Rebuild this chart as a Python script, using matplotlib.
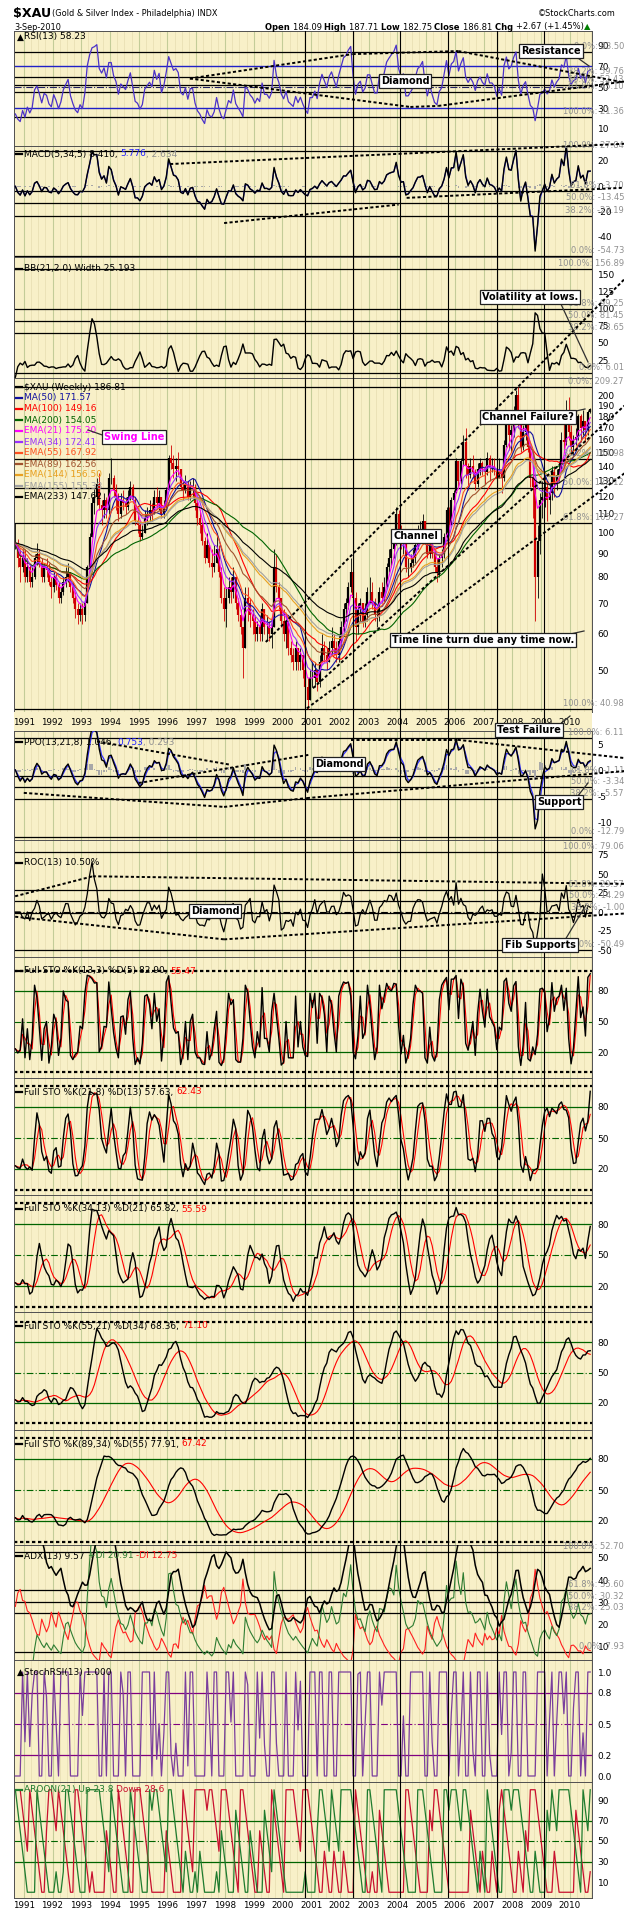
import numpy as np
import matplotlib
matplotlib.use("Agg")
import matplotlib.pyplot as plt
from matplotlib.lines import Line2D
from matplotlib import font_manager
from matplotlib.ticker import NullLocator, FixedLocator, FixedFormatter

plt.rcParams['font.family'] = ['DejaVu Sans']
_installed = {f.name for f in font_manager.fontManager.ttflist}
NARROW = 'Liberation Sans Narrow' if 'Liberation Sans Narrow' in _installed else 'DejaVu Sans'
NARROW_SCALE = 1.0 if NARROW != 'DejaVu Sans' else 0.82

W, H = 624, 1914
X0, X1 = 14, 592            # plot area, pixels
XL, XR = 1990.66, 2010.77   # time range shown (decimal years)

# ---------------------------------------------------------------------------
# Monthly high / low / close of $XAU, Sep-1990 .. Sep-2010 (last = wk of 3-Sep)
# ---------------------------------------------------------------------------
hi_1990 = [105, 97, 92, 92]
lo_1990 = [92, 84, 78, 82]
cl_1990 = [95, 88, 84, 88]
hi_1991 = [92, 88, 86, 84, 90, 95, 92, 88, 86, 88, 86, 80]
lo_1991 = [78, 78, 76, 76, 79, 85, 84, 78, 78, 80, 77, 72]
cl_1991 = [80, 84, 78, 80, 88, 90, 86, 80, 84, 83, 78, 76]
hi_1992 = [82, 82, 78, 76, 80, 84, 86, 82, 78, 74, 70, 70]
lo_1992 = [74, 75, 70, 70, 73, 76, 78, 74, 70, 65, 63, 64]
cl_1992 = [80, 77, 72, 74, 78, 80, 82, 76, 72, 68, 66, 68]
hi_1993 = [70, 72, 85, 100, 120, 125, 132, 135, 118, 122, 120, 135]
lo_1993 = [63, 64, 70, 84, 98, 110, 115, 112, 104, 108, 108, 110]
cl_1993 = [66, 70, 84, 98, 116, 120, 128, 115, 112, 118, 112, 132]
hi_1994 = [146, 134, 128, 122, 122, 124, 120, 124, 130, 128, 120, 110]
lo_1994 = [128, 120, 112, 106, 108, 112, 110, 112, 118, 116, 104, 100]
cl_1994 = [132, 124, 120, 110, 118, 116, 114, 120, 126, 118, 106, 104]
hi_1995 = [106, 104, 112, 114, 118, 116, 124, 126, 124, 120, 118, 126]
lo_1995 = [96, 97, 100, 104, 106, 106, 110, 114, 112, 108, 108, 112]
cl_1995 = [98, 100, 108, 110, 112, 110, 120, 116, 120, 110, 114, 124]
hi_1996 = [148, 156, 148, 146, 150, 138, 130, 134, 130, 130, 132, 128]
lo_1996 = [124, 138, 132, 130, 134, 124, 118, 122, 118, 118, 120, 112]
cl_1996 = [146, 142, 138, 140, 138, 126, 124, 128, 120, 126, 126, 116]
hi_1997 = [118, 112, 106, 98, 100, 94, 92, 94, 100, 94, 84, 76]
lo_1997 = [104, 100, 94, 86, 88, 84, 80, 82, 86, 80, 70, 64]
cl_1997 = [108, 104, 96, 88, 94, 86, 84, 86, 92, 82, 72, 68]
hi_1998 = [76, 80, 80, 84, 80, 72, 68, 62, 76, 76, 72, 68]
lo_1998 = [62, 70, 70, 72, 68, 64, 60, 48, 56, 64, 62, 60]
cl_1998 = [72, 76, 74, 80, 70, 66, 62, 56, 72, 70, 66, 64]
hi_1999 = [66, 64, 66, 70, 68, 66, 64, 64, 92, 90, 78, 72]
lo_1999 = [58, 58, 58, 58, 60, 58, 58, 56, 62, 74, 68, 62]
cl_1999 = [60, 62, 60, 68, 62, 62, 60, 62, 84, 76, 72, 64]
hi_2000 = [68, 66, 64, 58, 56, 58, 56, 56, 54, 50, 48, 50]
lo_2000 = [58, 56, 54, 52, 50, 50, 50, 50, 48, 44, 40.98, 43]
cl_2000 = [60, 64, 56, 54, 52, 56, 52, 54, 50, 46, 43, 48]
hi_2001 = [52, 52, 50, 54, 60, 58, 56, 58, 62, 60, 58, 60]
lo_2001 = [46, 46, 45, 46, 52, 52, 50, 52, 54, 54, 52, 52]
cl_2001 = [48, 50, 47, 52, 56, 54, 52, 56, 58, 56, 54, 58]
hi_2002 = [64, 70, 72, 78, 88, 86, 74, 70, 72, 70, 70, 76]
lo_2002 = [56, 60, 64, 68, 74, 70, 58, 60, 64, 62, 62, 64]
cl_2002 = [62, 68, 70, 76, 82, 72, 62, 68, 70, 64, 66, 74]
hi_2003 = [80, 78, 72, 68, 76, 78, 80, 86, 92, 96, 98, 114]
lo_2003 = [70, 68, 64, 62, 64, 70, 70, 76, 82, 84, 88, 94]
cl_2003 = [74, 70, 66, 66, 74, 72, 76, 84, 88, 92, 96, 110]
hi_2004 = [112, 104, 102, 98, 88, 90, 92, 96, 104, 106, 110, 106]
lo_2004 = [96, 92, 90, 82, 80, 82, 84, 86, 92, 96, 98, 96]
cl_2004 = [100, 96, 98, 84, 84, 86, 88, 94, 100, 102, 106, 98]
hi_2005 = [100, 100, 98, 92, 88, 90, 92, 100, 114, 114, 120, 124]
lo_2005 = [88, 88, 88, 82, 78, 80, 84, 88, 96, 100, 104, 112]
cl_2005 = [90, 96, 90, 84, 82, 88, 90, 98, 112, 104, 118, 122]
hi_2006 = [146, 144, 146, 164, 170, 142, 146, 148, 138, 142, 146, 144]
lo_2006 = [122, 126, 128, 140, 132, 124, 132, 132, 124, 126, 134, 134]
cl_2006 = [144, 130, 144, 158, 140, 134, 140, 136, 128, 138, 142, 138]
hi_2007 = [140, 150, 148, 146, 146, 142, 146, 138, 160, 176, 180, 172]
lo_2007 = [128, 134, 130, 136, 134, 128, 132, 122, 130, 154, 152, 150]
cl_2007 = [136, 146, 140, 140, 138, 132, 136, 132, 156, 172, 164, 168]
hi_2008 = [190, 206, 209.27, 182, 172, 176, 180, 156, 150, 130, 104, 122]
lo_2008 = [162, 180, 170, 150, 152, 160, 150, 126, 108, 64, 72, 90]
cl_2008 = [184, 200, 174, 154, 166, 172, 154, 132, 126, 80, 96, 118]
hi_2009 = [130, 136, 130, 128, 140, 140, 138, 144, 166, 176, 196, 198]
lo_2009 = [108, 114, 106, 110, 118, 120, 124, 130, 138, 150, 156, 160]
cl_2009 = [120, 126, 118, 122, 136, 128, 134, 138, 160, 158, 186, 166]
hi_2010 = [172, 164, 170, 182, 182, 186, 176, 186, 187.71]
lo_2010 = [150, 148, 156, 160, 158, 164, 158, 164, 182.75]
cl_2010 = [154, 160, 162, 180, 170, 176, 168, 184.14, 186.81]
last_open = 184.09

# vertical cycle ("time") lines
time_lines = [2000.77, 2002.47, 2004.10, 2005.77, 2007.47, 2009.10]

# hand-drawn trend lines, (year, value) pairs per panel
rsi_trend = [((1996.78, 58.3), (2002.44, 81.7)), ((2002.44, 81.7), (2006.12, 84.6)),
             ((2006.12, 84.6), (2011.9, 54.4)), ((1996.78, 58.3), (2004.45, 31.0)),
             ((2004.45, 31.0), (2005.42, 32.0)), ((2005.42, 32.0), (2011.9, 55.4))]
macd_trend = [((1996.09, 17.6), (2011.9, 33.6)), ((1997.97, -29.0), (2004.04, -14.4)),
              ((2004.32, -9.1), (2011.9, -1.1))]
ppo_trend = [((1993.55, 5.5), (1998.2, 1.0)), ((1995.0, -2.5), (2000.9, 2.9)),
             ((1991.0, -4.4), (1997.97, -7.1)), ((1997.97, -7.1), (2000.85, -5.4)),
             ((2000.85, -5.4), (2011.9, -0.2)), ((2002.4, 5.8), (2006.1, 5.8)),
             ((2006.1, 5.8), (2011.9, 2.3))]
roc_trend = [((1990.70, 20.7), (1993.4, 47.0)), ((1993.4, 47.0), (2011.9, 37.0)),
             ((1990.70, -6.2), (1997.97, -36.0)), ((1997.97, -36.0), (2011.9, -2.0))]
price_trend = [((1999.42, 57.6), (2011.9, 360.0)), ((2001.06, 45.6), (2011.9, 190.0)),
               ((2000.85, 41.2), (2011.9, 135.0))]

# ---------------------------------------------------------------------------
hi = np.array(sum([hi_1990, hi_1991, hi_1992, hi_1993, hi_1994, hi_1995, hi_1996,
                   hi_1997, hi_1998, hi_1999, hi_2000, hi_2001, hi_2002, hi_2003,
                   hi_2004, hi_2005, hi_2006, hi_2007, hi_2008, hi_2009, hi_2010], []), float)
lo = np.array(sum([lo_1990, lo_1991, lo_1992, lo_1993, lo_1994, lo_1995, lo_1996,
                   lo_1997, lo_1998, lo_1999, lo_2000, lo_2001, lo_2002, lo_2003,
                   lo_2004, lo_2005, lo_2006, lo_2007, lo_2008, lo_2009, lo_2010], []), float)
cl = np.array(sum([cl_1990, cl_1991, cl_1992, cl_1993, cl_1994, cl_1995, cl_1996,
                   cl_1997, cl_1998, cl_1999, cl_2000, cl_2001, cl_2002, cl_2003,
                   cl_2004, cl_2005, cl_2006, cl_2007, cl_2008, cl_2009, cl_2010], []), float)
n = len(cl)
t = 1990 + (8 + np.arange(n) + 0.5) / 12.0
op = np.r_[cl[0], cl[:-1]]
op[-1] = last_open

WPM = 4.33  # weeks per month: weekly indicator periods expressed in months


def m(weeks):
    return weeks / WPM


def ema(x, span):
    a = 2.0 / (span + 1.0)
    out = np.empty(len(x)); out[0] = x[0]
    for i in range(1, len(x)):
        out[i] = a * x[i] + (1 - a) * out[i - 1]
    return out


def sma(x, k):
    k = max(1, int(round(k)))
    return np.array([np.mean(x[max(0, i - k + 1):i + 1]) for i in range(len(x))])


def wilder(x, k, seed=None):
    a = 1.0 / k
    out = np.empty(len(x)); out[0] = x[0] if seed is None else seed
    for i in range(1, len(x)):
        out[i] = out[i - 1] + a * (x[i] - out[i - 1])
    return out


def rsi(x, k):
    d = np.diff(x, prepend=x[0])
    g, ls = np.clip(d, 0, None), np.clip(-d, 0, None)
    kk = int(round(k)) + 1
    up = wilder(g, k, seed=g[1:kk].mean())
    dn = wilder(ls, k, seed=ls[1:kk].mean())
    tot = up + dn
    return np.where(tot > 0, 100 * up / np.where(tot > 0, tot, 1), 50.0)


def stoch(h, l, c, k, ks, ds):
    k = max(2, int(round(k)))
    raw = np.empty(len(c))
    for i in range(len(c)):
        hh = h[max(0, i - k + 1):i + 1].max(); ll = l[max(0, i - k + 1):i + 1].min()
        raw[i] = 100 * (c[i] - ll) / max(hh - ll, 1e-9)
    kk = sma(raw, ks)
    return kk, sma(kk, max(2, ds))


def adx(h, l, c, k):
    pc = np.r_[c[0], c[:-1]]
    tr = np.maximum(h - l, np.maximum(abs(h - pc), abs(l - pc)))
    upm = np.r_[0, h[1:] - h[:-1]]; dnm = np.r_[0, l[:-1] - l[1:]]
    pdm = np.where((upm > dnm) & (upm > 0), upm, 0.0)
    ndm = np.where((dnm > upm) & (dnm > 0), dnm, 0.0)
    kk = int(round(k)) + 1
    atr = wilder(tr, k, seed=tr[1:kk].mean())
    pdi = 100 * wilder(pdm, k, seed=pdm[1:kk].mean()) / atr
    ndi = 100 * wilder(ndm, k, seed=ndm[1:kk].mean()) / atr
    dx = 100 * abs(pdi - ndi) / np.maximum(pdi + ndi, 1e-9)
    return wilder(dx, k, seed=dx[:kk].mean()), pdi, ndi


def aroon(h, l, k):
    up = np.empty(len(h)); dn = np.empty(len(h))
    for i in range(len(h)):
        s = max(0, i - k)
        up[i] = 100 * (k - (i - s - np.argmax(h[s:i + 1]))) / k
        dn[i] = 100 * (k - (i - s - np.argmin(l[s:i + 1]))) / k
    return up, dn


# indicators (weekly settings converted to monthly bars; wilder-type ones
# get a longer window so their swing size stays comparable)
rsi13 = rsi(cl, 2 * m(13))
rsi_fast = rsi(cl, m(13))
macd = ema(cl, m(5)) - ema(cl, m(34)); macd_sig = ema(macd, m(5)); macd_h = macd - macd_sig
bb_mid = sma(cl, m(21))
bb_sd = np.array([np.std(cl[max(0, i - 4):i + 1]) for i in range(n)])
bbw = 4 * bb_sd / bb_mid * 100
ppo = (ema(cl, m(13)) - ema(cl, m(21))) / ema(cl, m(21)) * 100
ppo_sig = ema(ppo, m(8)); ppo_h = ppo - ppo_sig
k3 = int(round(m(13)))
roc = np.r_[np.zeros(k3), (cl[k3:] / cl[:-k3] - 1) * 100]
sto_specs = [(13, 3, 5), (21, 8, 13), (34, 13, 21), (55, 21, 34), (89, 34, 55)]
stos = [stoch(hi, lo, cl, m(a), m(b), m(c)) for a, b, c in sto_specs]
adx13, pdi13, ndi13 = adx(hi, lo, cl, 2 * m(13))
kk = max(2, int(round(m(13))))
srsi = np.array([(rsi_fast[i] - rsi_fast[max(0, i - kk + 1):i + 1].min()) /
                 max(np.ptp(rsi_fast[max(0, i - kk + 1):i + 1]), 1e-9) for i in range(n)])
ar_up, ar_dn = aroon(hi, lo, int(round(m(21))))

ma_specs = [("MA(50) 171.57", 'sma', 50, '#1010A0'), ("MA(100) 149.16", 'sma', 100, '#FF0000'),
            ("MA(200) 154.05", 'sma', 200, '#006400'), ("EMA(21) 175.20", 'ema', 21, '#FF00FF'),
            ("EMA(34) 172.41", 'ema', 34, '#9932FF'), ("EMA(55) 167.92", 'ema', 55, '#FF5020'),
            ("EMA(89) 162.56", 'ema', 89, '#A0522D'), ("EMA(144) 156.50", 'ema', 144, '#E8A020'),
            ("EMA(155) 155.38", 'ema', 155, '#A0A0A0'), ("EMA(233) 147.62", 'ema', 233, '#000000')]

# ---------------------------------------------------------------------------
fig = plt.figure(figsize=(W / 100, H / 100), dpi=100)
fig.patch.set_facecolor('white')
renderer = fig.canvas.get_renderer()
BG = '#F8F0C8'


def px(x, y):
    return x / W, 1 - y / H


def panel(top, bottom, anchors, ticks, log=False, fmt=None):
    ax = fig.add_axes([X0 / W, 1 - bottom / H, (X1 - X0) / W, (bottom - top) / H])
    (v1, y1), (v2, y2) = anchors
    f = np.log if log else (lambda v: v)
    g = np.exp if log else (lambda v: v)
    s = (y2 - y1) / (f(v2) - f(v1))
    vt = g(f(v1) + (top - y1) / s)
    vb = g(f(v1) + (bottom - y1) / s)
    if log:
        ax.set_yscale('log')
    ax.set_ylim(vb, vt)
    ax.set_xlim(XL, XR)
    ax.set_facecolor(BG)
    for sp in ax.spines.values():
        sp.set_color('#505050'); sp.set_linewidth(0.7)
    ax.set_xticks([])
    ax.yaxis.tick_right()
    ax.yaxis.set_major_locator(FixedLocator(ticks))
    ax.yaxis.set_major_formatter(FixedFormatter([fmt(v) if fmt else f"{v:g}" for v in ticks]))
    ax.yaxis.set_minor_locator(NullLocator())
    ax.tick_params(axis='y', length=0, pad=4, labelsize=6.5)
    for yr in range(1991, 2011):
        ax.axvline(yr, color='#C3CC98', lw=0.8, zorder=0.5)
        for q in (0.25, 0.5, 0.75):
            ax.axvline(yr + q, color='#E6DDB0', lw=0.5, zorder=0.4)
    for tl in time_lines:
        ax.axvline(tl, color='black', lw=0.8, zorder=6)
    return ax


def rich(x, y, pieces, fs=6.5, family=None, ha='left'):
    x0 = x
    made = []
    for s, col, wt in pieces:
        kw = dict(color=col, fontsize=fs, ha='left', va='center', fontweight=wt, zorder=30)
        if family:
            kw['family'] = family
        tx = fig.text(*px(x, y), s, **kw)
        made.append((tx, x))
        x += tx.get_window_extent(renderer=renderer).width
    if ha == 'right':
        shift = x - x0
        for tx, xx in made:
            tx.set_position(px(xx - shift, y))


def label(x, y, pieces, fs=6.5, dash='#000000'):
    fig.add_artist(Line2D([px(x, y)[0], px(x + 6, y)[0]], [px(x, y)[1]] * 2, color=dash, lw=1.6, zorder=30))
    rich(x + 8, y, [(s, c, 'normal') for s, c in pieces], fs=fs)


def fib(ax, lo_v, hi_v, pcts, from_top=False):
    for p in pcts:
        v = hi_v - p * (hi_v - lo_v) if from_top else lo_v + p * (hi_v - lo_v)
        ax.axhline(v, color='black', lw=0.9, zorder=2)
        ax.annotate(f"{p * 100:.1f}%: {v:.2f}", xy=(1.0, v), xycoords=('axes fraction', 'data'),
                    xytext=(32, 1), textcoords='offset pixels', ha='right', va='bottom',
                    fontsize=6, color='#909090', annotation_clip=False, zorder=8)


def trend(ax, segs, lw=1.4):
    for (xa, ya), (xb, yb) in segs:
        ax.plot([xa, xb], [ya, yb], color='black', lw=lw, ls=(0, (1.6, 1.2)), zorder=9, clip_on=False)


def callout(text, x, y, tip=None, color='black', fs=7):
    fig.text(*px(x, y), text, ha='center', va='center', fontsize=fs, fontweight='bold', color=color,
             zorder=40, bbox=dict(boxstyle='square,pad=0.22', fc='white', ec='#202020', lw=0.9))
    if tip:
        (xa, ya), (xb, yb) = tip
        fig.add_artist(Line2D([xa / W, xb / W], [1 - ya / H, 1 - yb / H], color='#303030', lw=0.9, zorder=39))


# ---- header ----
fig.text(*px(13, 13), "$XAU", fontsize=10.5 * NARROW_SCALE + 0.5, fontweight='bold', ha='left',
         va='center', family=NARROW)
fig.text(*px(52, 14), "(Gold & Silver Index - Philadelphia) INDX", fontsize=7.2 * NARROW_SCALE,
         ha='left', va='center', family=NARROW)
fig.text(*px(616, 13), "©StockCharts.com", fontsize=7.2 * NARROW_SCALE, ha='right', va='center', family=NARROW)
fig.text(*px(14, 27), "3-Sep-2010", fontsize=7.2 * NARROW_SCALE, ha='left', va='center', family=NARROW)
rich(590, 27, [("Open ", 'black', 'bold'), ("184.09 ", 'black', 'normal'), ("High ", 'black', 'bold'),
               ("187.71 ", 'black', 'normal'), ("Low ", 'black', 'bold'), ("182.75 ", 'black', 'normal'),
               ("Close ", 'black', 'bold'), ("186.81 ", 'black', 'normal'), ("Chg ", 'black', 'bold'),
               ("+2.67 (+1.45%)", 'black', 'normal'), ("▲", '#008000', 'normal')],
     fs=7.4 * NARROW_SCALE, family=[NARROW, 'DejaVu Sans'], ha='right')

# ---- RSI ----
ax = panel(31, 146, ((70, 66.3), (30, 108)), [10, 30, 50, 70, 90])
ax.axhline(70, color='#2020C8', lw=1.0, zorder=2); ax.axhline(30, color='#2020C8', lw=1.0, zorder=2)
ax.axhline(50, color='#202060', lw=0.8, ls='-.', zorder=2)
fib(ax, 21.36, 83.50, [0.0, 0.382, 0.5, 0.618, 1.0], from_top=True)
ax.plot(t, rsi13, color='#4B32C8', lw=0.9, zorder=5)
trend(ax, rsi_trend)
rich(17, 37, [("▲", '#000000', 'normal'), ("RSI(13) 58.23", '#000000', 'normal')])

# ---- MACD ----
ax = panel(146, 257, ((20, 161), (-40, 237)), [20, 0, -20, -40])
ax.bar(t, macd_h, width=0.06, color='#A8A8A8', zorder=3)
fib(ax, -54.73, 27.84, [0.0, 0.382, 0.5, 0.618, 1.0])
ax.plot(t, macd_sig, color='#3030FF', lw=0.9, zorder=4)
ax.plot(t, macd, color='black', lw=1.0, zorder=5)
trend(ax, macd_trend)
label(16, 154, [("MACD(5,34,5) 8.410, ", 'black'), ("5.776", '#2020FF'), (", 2.634", '#909090')])

# ---- BB width ----
ax_bb = panel(257, 378, ((150, 274), (25, 360)), [25, 50, 75, 100, 125, 150])
fib(ax_bb, 6.01, 156.89, [0.0, 0.382, 0.5, 0.618, 1.0])
ax_bb.plot(t, bbw, color='black', lw=1.0, zorder=5)
label(16, 269, [("BB(21,2.0) Width 25.193", 'black')])

# ---- price ----
ax = panel(378, 712, ((200, 395.5), (50, 670)), list(range(50, 201, 10)), log=True)
fib(ax, 40.98, 209.27, [0.0, 0.382, 0.5, 0.618, 1.0], from_top=True)
cols = np.where(cl >= op, 'black', '#D00000')
ax.vlines(t, lo, hi, colors=cols, lw=0.6, zorder=4)
ax.vlines(t, np.minimum(op, cl), np.maximum(op, cl), colors=cols, lw=1.6, zorder=4)
for name, kind, wk, col in ma_specs:
    line = sma(cl, m(wk)) if kind == 'sma' else ema(cl, m(wk))
    ax.plot(t, line, color=col, lw=0.8, zorder=5)
trend(ax, price_trend)
label(16, 387, [("$XAU (Weekly) 186.81", 'black')])
for i, (name, kind, wk, col) in enumerate(ma_specs):
    label(16, 398 + 11 * i, [(name, col)], dash=col)

# ---- year strip ----
ax_s = fig.add_axes([X0 / W, 1 - 731 / H, (X1 - X0) / W, 19 / H])
ax_s.set_xlim(XL, XR); ax_s.set_ylim(0, 1); ax_s.set_facecolor(BG)
ax_s.set_xticks([]); ax_s.set_yticks([])
for sp in ax_s.spines.values():
    sp.set_visible(False)
for tl in time_lines:
    ax_s.axvline(tl, color='black', lw=0.8)
for yr in range(1991, 2011):
    ax_s.text(yr, 0.45, str(yr), ha='center', va='center', fontsize=6.3)

# ---- PPO ----
ax = panel(731, 840, ((5, 744), (-10, 822)), [5, 0, -5, -10])
ax.bar(t, ppo_h, width=0.06, color='#A8A8A8', zorder=3)
fib(ax, -12.79, 6.11, [0.0, 0.382, 0.5, 0.618, 1.0])
ax.plot(t, ppo_sig, color='#3030FF', lw=0.9, zorder=4)
ax.plot(t, ppo, color='black', lw=1.0, zorder=5)
trend(ax, ppo_trend)
label(16, 742, [("PPO(13,21,8) 1.046, ", 'black'), ("0.753", '#2020FF'), (", 0.293", '#909090')])

# ---- ROC ----
ax = panel(840, 957, ((75, 855), (-25, 931)), [75, 50, 25, 0, -25, -50])
ax.axhline(0, color='black', lw=0.8, ls=(0, (6, 2, 1, 2)), zorder=2)
fib(ax, -50.49, 79.06, [0.0, 0.382, 0.5, 0.618, 1.0])
ax.plot(t, roc, color='black', lw=0.9, zorder=5)
trend(ax, roc_trend)
label(16, 863, [("ROC(13) 10.50%", 'black')])

# ---- five full stochastics ----
sto_boxes = [(957, 1078, 991, 1052), (1078, 1195, 1107, 1169), (1195, 1312, 1224, 1286),
             (1312, 1430, 1342, 1403), (1430, 1545, 1459, 1521)]
sto_labels = [("Full STO %K(13,3) %D(5) 82.90, ", "55.47"), ("Full STO %K(21,8) %D(13) 57.63, ", "62.43"),
              ("Full STO %K(34,13) %D(21) 65.82, ", "55.59"), ("Full STO %K(55,21) %D(34) 68.36, ", "71.10"),
              ("Full STO %K(89,34) %D(55) 77.91, ", "67.42")]
for (top, bot, y80, y20), (k, d), (l1, l2) in zip(sto_boxes, stos, sto_labels):
    ax = panel(top, bot, ((80, y80), (20, y20)), [20, 50, 80])
    ax.axhline(80, color='#006400', lw=0.9, zorder=2); ax.axhline(20, color='#006400', lw=0.9, zorder=2)
    ax.axhline(50, color='#006400', lw=0.8, ls=(0, (6, 2, 1, 2)), zorder=2)
    for lv in (0, 100):
        ax.axhline(lv, color='black', lw=1.6, ls=(0, (1.5, 1.2)), zorder=2)
    ax.plot(t, d, color='#FF0000', lw=0.8, zorder=4)
    ax.plot(t, k, color='black', lw=1.0, zorder=5)
    label(16, top + 14, [(l1, 'black'), (l2, '#FF0000')])

# ---- ADX ----
ax = panel(1545, 1660, ((40, 1580), (10, 1647)), [10, 20, 30, 40, 50])
fib(ax, 7.93, 52.70, [0.0, 0.382, 0.5, 0.618, 1.0])
ax.plot(t, ndi13, color='#FF2020', lw=0.8, zorder=4)
ax.plot(t, pdi13, color='#2E7D32', lw=0.8, zorder=4)
ax.plot(t, adx13, color='black', lw=1.1, zorder=5)
label(16, 1556, [("ADX(13) 9.57 ", 'black'), ("+DI 20.91 ", '#2E7D32'), ("-DI 12.75", '#FF2020')])

# ---- StochRSI ----
ax = panel(1660, 1782, ((1.0, 1672), (0.0, 1776)), [0.0, 0.2, 0.5, 0.8, 1.0], fmt=lambda v: f"{v:.1f}")
ax.axhline(0.8, color='#800080', lw=0.9, zorder=2); ax.axhline(0.2, color='#800080', lw=0.9, zorder=2)
ax.axhline(0.5, color='#800080', lw=0.8, ls=(0, (6, 2, 1, 2)), zorder=2)
ax.plot(t, srsi, color='#7A3E9D', lw=0.9, zorder=5)
rich(17, 1672, [("▲", '#000000', 'normal'), ("StochRSI(13) 1.000", '#000000', 'normal')])

# ---- Aroon ----
ax = panel(1782, 1898, ((90, 1800), (10, 1882)), [10, 30, 50, 70, 90])
ax.axhline(70, color='#006400', lw=0.9, zorder=2); ax.axhline(30, color='#006400', lw=0.9, zorder=2)
ax.axhline(50, color='#006400', lw=0.8, ls=(0, (6, 2, 1, 2)), zorder=2)
ax.plot(t, ar_dn, color='#C8102E', lw=0.9, zorder=4)
ax.plot(t, ar_up, color='#1E7B2E', lw=0.9, zorder=5)
label(16, 1790, [("AROON(21) Up 23.8 ", '#1E7B2E'), ("Down 28.6", '#C8102E')], dash='#1E7B2E')
for yr in range(1991, 2011):
    ax.annotate(str(yr), xy=(yr, 0), xycoords=('data', 'axes fraction'), xytext=(0, -8),
                textcoords='offset pixels', ha='center', va='center', fontsize=6.3, annotation_clip=False)

# ---- callouts ----
callout("Diamond", 405, 81)
callout("Resistance", 551, 51, tip=((575, 56), (589, 66)))
callout("Volatility at lows.", 530, 297, tip=((560, 302), (588, 362)))
callout("Swing Line", 134, 437, tip=((108, 437), (88, 430)), color='#FF00FF')
callout("Channel", 416, 536)
callout("Channel Failure?", 528, 417, tip=((567, 413), (585, 409)))
callout("Time line turn due any time now.", 483, 640, tip=((557, 637), (584, 631)))
callout("Test Failure", 529, 730, tip=((557, 727), (570, 716)))
callout("Diamond", 339, 764)
callout("Support", 559, 802, tip=((577, 797), (588, 783)))
callout("Diamond", 215, 911)
callout("Fib Supports", 540, 945, tip=((565, 940), (586, 905)))

fig.savefig("out.png", dpi=100, facecolor='white')
